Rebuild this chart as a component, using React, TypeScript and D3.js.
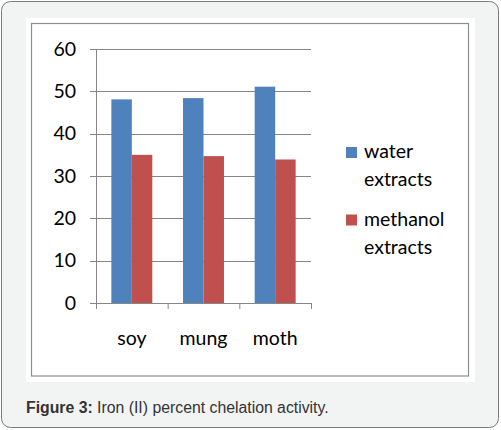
import React from 'react';
import * as d3 from 'd3';

const categories = ['soy', 'mung', 'moth'];
const seriesNames = ['water extracts', 'methanol extracts'];
const waterValues = [48.1, 48.4, 51.1];
const methanolValues = [35.0, 34.7, 33.9];
const yTicks = [0, 10, 20, 30, 40, 50, 60];
const seriesColors = ['#4f81bd', '#c0504d'];

const W = 501;
const H = 430;
const plot = { left: 96, right: 311, top: 49, bottom: 303 };
const font = 'Lato, "Open Sans", sans-serif';
const fs = 19.5;

export default function App() {
  const x = d3
    .scaleBand()
    .domain(categories)
    .range([plot.left, plot.right])
    .paddingInner(0)
    .paddingOuter(0);

  const inner = d3
    .scaleBand()
    .domain(seriesNames)
    .range([0, x.bandwidth()])
    .paddingInner(0)
    .paddingOuter(0.75);

  const y = d3.scaleLinear().domain([0, 60]).range([plot.bottom, plot.top]);

  const values = [waterValues, methanolValues];

  // category boundaries for the tick marks below the axis
  const xTickPos = categories.map((c) => x(c)!).concat([plot.right]);

  return (
    <svg
      width={W}
      height={H}
      style={{ position: 'absolute', left: 0, top: 0, display: 'block' }}
    >
      {/* outer frame */}
      <rect x={1.5} y={1.5} width={497} height={426} rx={9} fill="#f2f4f4" stroke="#7a7a7a" />
      {/* white panel */}
      <rect x={26} y={18} width={449} height={364} fill="#ffffff" />
      {/* chart border */}
      <rect x={31.5} y={23.5} width={437} height={352.5} fill="none" stroke="#8e8e8e" strokeWidth={1.2} />

      {/* gridlines + y ticks */}
      <g>
        {yTicks.map((t) => (
          <g key={t}>
            <line
              x1={plot.left - 6}
              x2={plot.right}
              y1={Math.round(y(t)) + 0.5}
              y2={Math.round(y(t)) + 0.5}
              stroke="#868686"
            />
            <text
              x={76}
              y={y(t)}
              dy="0.35em"
              textAnchor="end"
              fontFamily={font}
              fontSize={fs}
              fill="#000000"
            >
              {t}
            </text>
          </g>
        ))}
      </g>

      {/* bars */}
      {categories.map((c, ci) => (
        <g key={c} transform={`translate(${x(c)},0)`}>
          {seriesNames.map((s, si) => (
            <rect
              key={s}
              x={inner(s)}
              y={y(values[si][ci])}
              width={inner.bandwidth()}
              height={y(0) - y(values[si][ci])}
              fill={seriesColors[si]}
            />
          ))}
        </g>
      ))}

      {/* y axis line */}
      <line x1={plot.left + 0.5} x2={plot.left + 0.5} y1={plot.top} y2={plot.bottom + 6} stroke="#868686" />
      {/* x tick marks */}
      {xTickPos.map((p, i) => (
        <line key={i} x1={p + 0.5} x2={p + 0.5} y1={plot.bottom} y2={plot.bottom + 6} stroke="#868686" />
      ))}

      {/* category labels */}
      {categories.map((c) => (
        <text
          key={c}
          x={x(c)! + x.bandwidth() / 2}
          y={345}
          textAnchor="middle"
          fontFamily={font}
          fontSize={fs}
          fill="#000000"
        >
          {c}
        </text>
      ))}

      {/* legend */}
      {seriesNames.map((s, i) => {
        const top = 147 + i * 67.5;
        const [w1, w2] = s.split(' ');
        return (
          <g key={s}>
            <rect x={346} y={top} width={11} height={11} fill={seriesColors[i]} />
            <text x={364} y={top + 11} fontFamily={font} fontSize={fs} fill="#000000">
              {w1}
            </text>
            <text x={364} y={top + 39} fontFamily={font} fontSize={fs} fill="#000000">
              {w2}
            </text>
          </g>
        );
      })}

      {/* caption */}
      <text x={26} y={413} fontFamily='"Liberation Sans", Arial, sans-serif' fontSize={15.8} fill="#333333">
        <tspan fontWeight="bold">Figure 3:</tspan> Iron (II) percent chelation activity.
      </text>
    </svg>
  );
}
